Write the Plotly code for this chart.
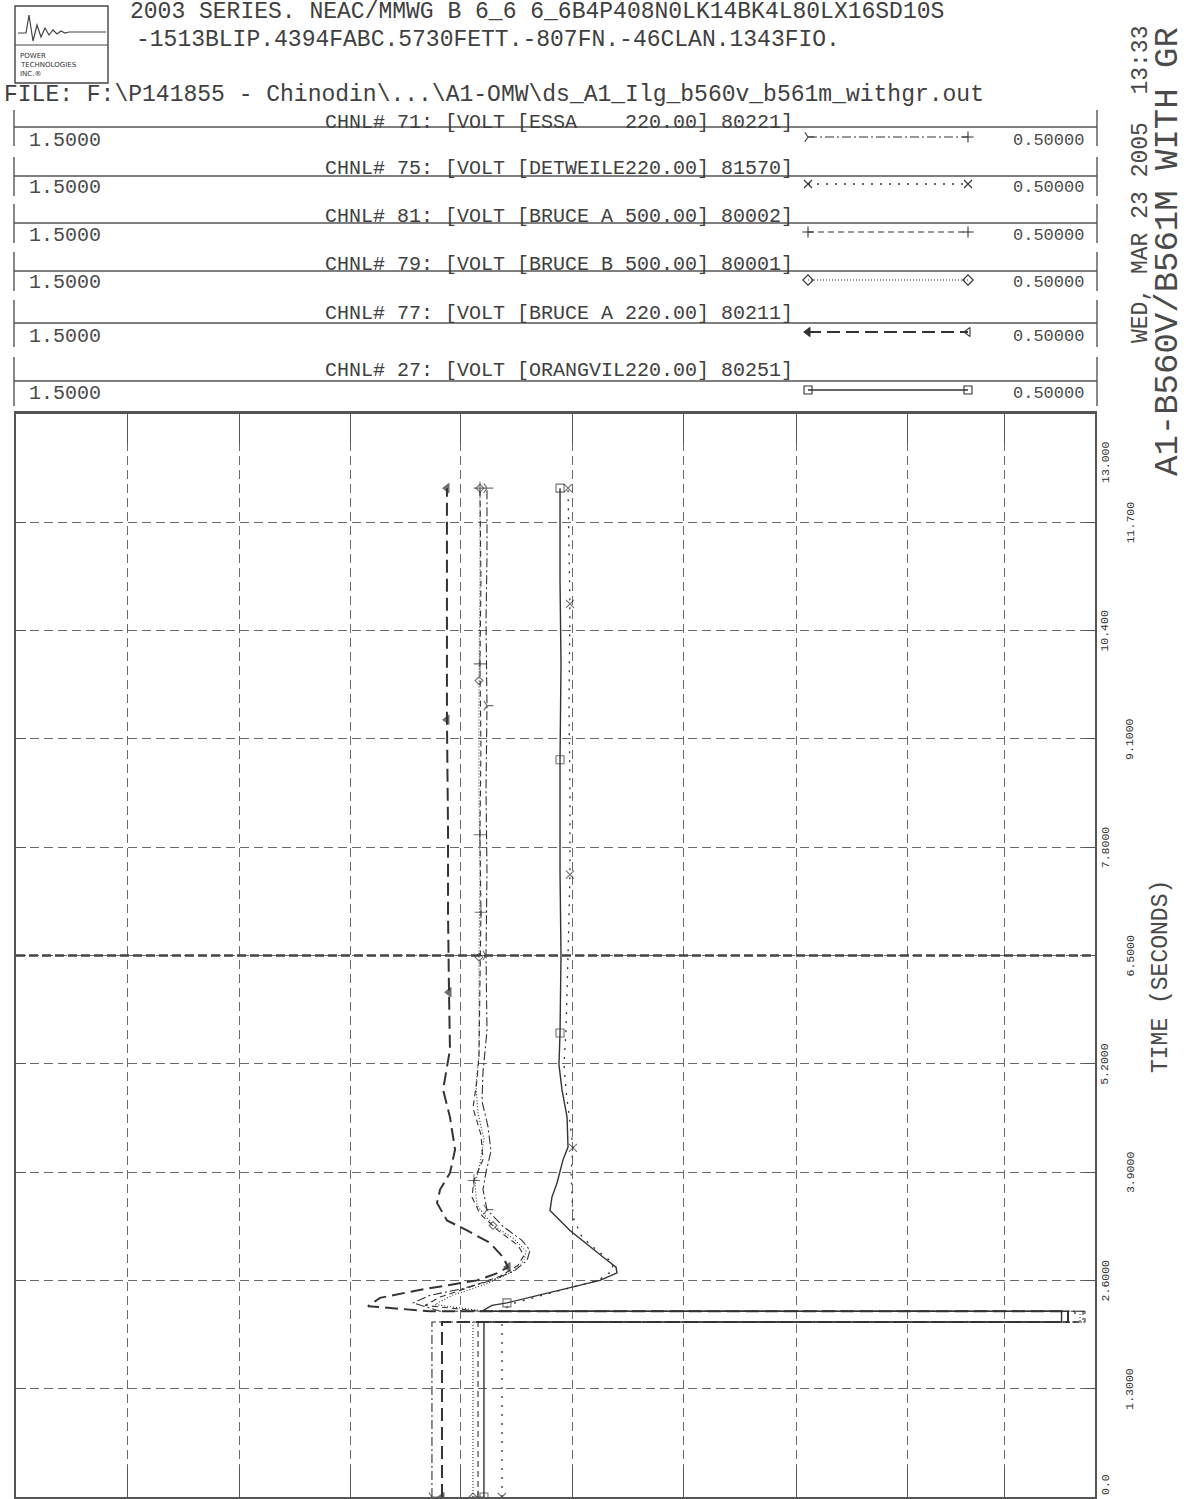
import plotly.graph_objects as go

# ---------------------------------------------------------------------------
# Data: bus voltages (pu) versus simulation time (s) for the six channels
# ---------------------------------------------------------------------------
# CHNL 71  ESSA 220 kV
t_essa = [0.0, 2.10, 2.10, 2.23, 2.23, 2.33, 2.42, 2.50, 2.60, 2.72, 2.84, 2.96,
          3.08, 3.25, 3.45, 3.69, 3.90, 4.15, 4.45, 4.75, 5.10, 5.60, 6.50, 7.50,
          8.50, 9.50, 10.50, 11.30, 12.11]
v_essa = [1.1145, 1.1145, 0.5111, 0.5111, 1.1070, 1.1321, 1.1163, 1.0867, 1.0589,
          1.0375, 1.0264, 1.0236, 1.0311, 1.0487, 1.0635, 1.0672, 1.0644, 1.0598,
          1.0626, 1.0681, 1.0672, 1.0635, 1.0644, 1.0635, 1.0644, 1.0635, 1.0644,
          1.0635, 1.0635]

# CHNL 75  DETWEILER 220 kV
t_detw = [0.0, 2.10, 2.10, 2.23, 2.23, 2.33, 2.48, 2.60, 2.72, 2.82, 2.95, 3.12,
          3.36, 3.60, 3.89, 4.19, 4.56, 4.89, 5.19, 5.60, 6.50, 7.47, 8.50, 9.50,
          10.72, 11.30, 12.11]
v_detw = [1.0496, 1.0496, 0.5185, 0.5185, 1.0514, 1.0375, 0.9958, 0.9606, 0.9467,
          0.9477, 0.9606, 0.9755, 0.9838, 0.9847, 0.9856, 0.9838, 0.9875, 0.9903,
          0.9921, 0.9903, 0.9884, 0.9866, 0.9866, 0.9875, 0.9866, 0.9875, 0.9884]

# CHNL 81  BRUCE A 500 kV
t_bra5 = [0.0, 2.10, 2.10, 2.23, 2.23, 2.30, 2.40, 2.52, 2.65, 2.78, 2.90, 3.02,
          3.20, 3.40, 3.60, 3.80, 4.05, 4.35, 4.67, 5.00, 5.30, 6.00, 7.02, 7.95,
          9.00, 10.00, 11.00, 12.11]
v_bra5 = [1.0718, 1.0718, 0.5093, 0.5093, 1.0700, 1.1209, 1.1070, 1.0792, 1.0514,
          1.0348, 1.0292, 1.0348, 1.0533, 1.0700, 1.0774, 1.0756, 1.0672, 1.0691,
          1.0765, 1.0728, 1.0709, 1.0700, 1.0691, 1.0700, 1.0691, 1.0700, 1.0691,
          1.0700]

# CHNL 79  BRUCE B 500 kV
t_brb5 = [0.0, 2.10, 2.10, 2.23, 2.23, 2.31, 2.42, 2.55, 2.70, 2.84, 2.95, 3.10,
          3.26, 3.50, 3.75, 4.00, 4.30, 4.60, 4.95, 5.30, 6.48, 7.50, 8.50, 9.80,
          11.00, 12.11]
v_brb5 = [1.0765, 1.0765, 0.5139, 0.5139, 1.0654, 1.1117, 1.0959, 1.0654, 1.0403,
          1.0292, 1.0273, 1.0385, 1.0579, 1.0728, 1.0746, 1.0700, 1.0663, 1.0718,
          1.0737, 1.0709, 1.0709, 1.0700, 1.0709, 1.0709, 1.0700, 1.0700]

# CHNL 77  BRUCE A 220 kV
t_bra2 = [0.0, 2.10, 2.10, 2.23, 2.23, 2.29, 2.39, 2.48, 2.60, 2.69, 2.76, 2.88,
          3.05, 3.20, 3.32, 3.53, 3.69, 3.89, 4.17, 4.56, 4.89, 5.16, 5.37, 6.06,
          7.00, 8.00, 9.33, 10.50, 11.30, 12.11]
v_bra2 = [1.1052, 1.1052, 0.5250, 0.5250, 1.1163, 1.1738, 1.1627, 1.1284, 1.0728,
          1.0533, 1.0440, 1.0487, 1.0607, 1.0820, 1.1006, 1.1098, 1.1070, 1.0978,
          1.0931, 1.0978, 1.1042, 1.1006, 1.0978, 1.0987, 1.0996, 1.0996, 1.1006,
          1.1006, 1.1006, 1.1006]

# CHNL 27  ORANGEVILLE 220 kV
t_orng = [0.0, 2.10, 2.10, 2.23, 2.23, 2.30, 2.33, 2.48, 2.60, 2.69, 2.76, 2.88,
          3.01, 3.20, 3.44, 3.60, 3.77, 4.05, 4.20, 4.56, 4.89, 5.19, 5.57, 6.50,
          7.50, 8.85, 10.00, 11.00, 12.11]
v_orng = [1.0663, 1.0663, 0.5310, 0.5310, 1.0681, 1.0589, 1.0450, 0.9958, 0.9588,
          0.9430, 0.9439, 0.9560, 0.9680, 0.9866, 1.0051, 1.0033, 0.9986, 0.9930,
          0.9884, 0.9893, 0.9940, 0.9968, 0.9958, 0.9949, 0.9958, 0.9958, 0.9949,
          0.9958, 0.9958]

# Times at which each curve carries its identifying symbol
mark_essa = [0.0, 3.45, 6.50, 9.50, 12.11]
mark_detw = [0.0, 4.19, 7.47, 10.72, 12.11]
mark_bra5 = [0.0, 3.80, 7.02, 7.95, 10.00, 12.11]
mark_brb5 = [0.0, 3.26, 6.48, 9.80, 12.11]
mark_bra2 = [0.0, 2.76, 6.06, 9.33, 12.11]
mark_orng = [0.0, 2.33, 5.57, 8.85, 12.11]

# Channel descriptions and scale labels
CHANNEL_LABELS = [
    "CHNL# 71: [VOLT [ESSA    220.00] 80221]",
    "CHNL# 75: [VOLT [DETWEILE220.00] 81570]",
    "CHNL# 81: [VOLT [BRUCE A 500.00] 80002]",
    "CHNL# 79: [VOLT [BRUCE B 500.00] 80001]",
    "CHNL# 77: [VOLT [BRUCE A 220.00] 80211]",
    "CHNL# 27: [VOLT [ORANGVIL220.00] 80251]",
]
SCALE_MAX_LABEL = "1.5000"
SCALE_MIN_LABEL = "0.50000"
V_MAX, V_MIN = 1.5, 0.5

# Time axis (drawn vertically)
TIME_TICKS = [0.0, 1.3, 2.6, 3.9, 5.2, 6.5, 7.8, 9.1, 10.4, 11.7, 13.0]
TIME_LABELS = ["0.0", "1.3000", "2.6000", "3.9000", "5.2000", "6.5000",
               "7.8000", "9.1000", "10.400", "11.700", "13.000"]
# Voltage grid divisions (pu)
V_GRID = [1.397, 1.293, 1.190, 1.088, 0.984, 0.881, 0.777, 0.674, 0.584]

HEADER_1 = "2003 SERIES. NEAC/MMWG B 6_6 6_6B4P408N0LK14BK4L80LX16SD10S"
HEADER_2 = "-1513BLIP.4394FABC.5730FETT.-807FN.-46CLAN.1343FIO."
FILE_LINE = "FILE: F:\\P141855 - Chinodin\\...\\A1-OMW\\ds_A1_Ilg_b560v_b561m_withgr.out"
CASE_TITLE = "A1-B560V/B561M WITH GR"
RUN_DATE = "WED, MAR 23 2005  13:33"
TIME_TITLE = "TIME (SECONDS)"
LOGO_TEXT = ["POWER", "TECHNOLOGIES", "INC.\u00ae"]

# ---------------------------------------------------------------------------
# Styling
# ---------------------------------------------------------------------------
W, H = 1187, 1499
INK = "#333333"
TXT = "#404040"
GRID = "#6a6a6a"
FONT = "Liberation Mono"
PLOT_L, PLOT_R, PLOT_T, PLOT_B = 16, 1095, 414, 1497


def nb(s):
    return s.replace(" ", "\u00a0")


series = [
    dict(t=t_essa, v=v_essa, m=mark_essa, dash="9px,3px,2px,3px", width=1.1,
         sym="y-right-open", ends=("y-right-open", "cross-thin-open"), size=8),
    dict(t=t_detw, v=v_detw, m=mark_detw, dash="2px,7px", width=1.3,
         sym="x-thin-open", ends=("x-thin-open", "x-thin-open"), size=8),
    dict(t=t_bra5, v=v_bra5, m=mark_bra5, dash="6px,4px", width=1.1,
         sym="cross-thin-open", ends=("cross-thin-open", "cross-thin-open"), size=9),
    dict(t=t_brb5, v=v_brb5, m=mark_brb5, dash="1px,2px", width=1.1,
         sym="diamond-open", ends=("diamond-open", "diamond-open"), size=6),
    dict(t=t_bra2, v=v_bra2, m=mark_bra2, dash="13px,6px", width=2.0,
         sym="triangle-left", ends=("triangle-left", "triangle-left-open"), size=8),
    dict(t=t_orng, v=v_orng, m=mark_orng, dash="solid", width=1.4,
         sym="square-open", ends=("square-open", "square-open"), size=8),
]

fig = go.Figure()

# Voltage traces on the main (time-vertical) axes
for s in series:
    sizes = [s["size"] if t in s["m"] else 0 for t in s["t"]]
    fig.add_trace(go.Scatter(
        x=s["v"], y=s["t"], mode="lines+markers",
        line=dict(color=INK, width=s["width"], dash=s["dash"]),
        marker=dict(symbol=s["sym"], size=sizes, color=INK,
                    line=dict(color=INK, width=1.1)),
        xaxis="x", yaxis="y", showlegend=False, hoverinfo="skip"))

# Channel legend block (pixel-coordinate overlay axes x2/y2)
row_line_y = [127, 176, 223, 271, 323, 381]
row_text_y = [122, 168, 216, 264, 313, 370]
row_scale_y = [140, 187, 235, 282, 336, 393]
row_sample_y = [137, 184, 232, 280, 332, 390]
row_bar = [(110, 146), (157, 196), (204, 243), (252, 291), (300, 347), (357, 406)]

shapes = []
annotations = []

for i, s in enumerate(series):
    ly = row_line_y[i]
    shapes.append(dict(type="line", xref="x2", yref="y2", x0=14, x1=1097, y0=ly, y1=ly,
                       line=dict(color="#555", width=1.6)))
    b0, b1 = row_bar[i]
    for bx in (14, 1097):
        shapes.append(dict(type="line", xref="x2", yref="y2", x0=bx, x1=bx, y0=b0, y1=b1,
                           line=dict(color="#555", width=1.4)))
    annotations.append(dict(xref="x2", yref="y2", x=323, y=row_text_y[i], text=nb(CHANNEL_LABELS[i]),
                            xanchor="left", yanchor="middle", showarrow=False,
                            font=dict(family=FONT, size=20, color=TXT)))
    annotations.append(dict(xref="x2", yref="y2", x=27, y=row_scale_y[i], text=SCALE_MAX_LABEL,
                            xanchor="left", yanchor="middle", showarrow=False,
                            font=dict(family=FONT, size=20, color="#4a4a4a")))
    annotations.append(dict(xref="x2", yref="y2", x=1086, y=row_scale_y[i], text=SCALE_MIN_LABEL,
                            xanchor="right", yanchor="middle", showarrow=False,
                            font=dict(family=FONT, size=17, color="#4a4a4a")))
    sy = row_sample_y[i]
    fig.add_trace(go.Scatter(
        x=[808, 968], y=[sy, sy], mode="lines+markers",
        line=dict(color=INK, width=s["width"], dash=s["dash"]),
        marker=dict(symbol=list(s["ends"]), size=8, color=INK, line=dict(color=INK, width=1.1)),
        xaxis="x2", yaxis="y2", showlegend=False, hoverinfo="skip"))

# Header text
annotations += [
    dict(xref="x2", yref="y2", x=128, y=12, text=nb(HEADER_1), xanchor="left", yanchor="middle",
         showarrow=False, font=dict(family=FONT, size=23, color=TXT)),
    dict(xref="x2", yref="y2", x=134, y=40, text=nb(HEADER_2), xanchor="left", yanchor="middle",
         showarrow=False, font=dict(family=FONT, size=23, color=TXT)),
    dict(xref="x2", yref="y2", x=2, y=95, text=nb(FILE_LINE), xanchor="left", yanchor="middle",
         showarrow=False, font=dict(family=FONT, size=23, color=TXT)),
]

# Rotated titles on the right
annotations += [
    dict(xref="x2", yref="y2", x=1168, y=252, text=nb(CASE_TITLE), textangle=-90,
         showarrow=False, font=dict(family=FONT, size=34, color="#4a4a4a")),
    dict(xref="x2", yref="y2", x=1141, y=185, text=nb(RUN_DATE), textangle=-90,
         showarrow=False, font=dict(family=FONT, size=23, color="#4a4a4a")),
    dict(xref="x2", yref="y2", x=1161, y=977, text=nb(TIME_TITLE), textangle=-90,
         showarrow=False, font=dict(family=FONT, size=23, color="#4a4a4a")),
]

# Time tick labels, staggered in two columns
for k, (tv, lab) in enumerate(zip(TIME_TICKS, TIME_LABELS)):
    shift = 0
    if k == 0:
        shift = 12
    elif k == len(TIME_TICKS) - 1:
        shift = -48
    annotations.append(dict(xref="x2", yref="y", x=1105 if k % 2 == 0 else 1130, y=tv,
                            yshift=shift, text=lab, textangle=-90, showarrow=False,
                            font=dict(family=FONT, size=11.5, color=INK)))

# Company logo
shapes += [
    dict(type="rect", xref="x2", yref="y2", x0=15, x1=108, y0=6, y1=83,
         line=dict(color="#444", width=1.4)),
    dict(type="line", xref="x2", yref="y2", x0=15, x1=108, y0=45, y1=45,
         line=dict(color="#444", width=1.2)),
    dict(type="path", xref="x2", yref="y2",
         path="M18,33 L26,33 L29,15 L33,41 L37,25 L41,37 L45,28 L49,35 L53,30 L57,34 "
              "L61,31 L65,33 L69,32 L106,32",
         line=dict(color="#444", width=1.2)),
]
for j, txt in enumerate(LOGO_TEXT):
    annotations.append(dict(xref="x2", yref="y2", x=18, y=56 + 9 * j, text=txt, xanchor="left",
                            yanchor="middle", showarrow=False,
                            font=dict(family="DejaVu Sans", size=7, color=INK)))

# Emphasised mid-range time line
shapes.append(dict(type="line", xref="x domain", yref="y", x0=0, x1=1, y0=6.5, y1=6.5,
                   line=dict(color="#444", width=2.6, dash="9px,4px")))

fig.update_layout(
    width=W, height=H,
    margin=dict(l=0, r=0, t=0, b=0),
    paper_bgcolor="white", plot_bgcolor="rgba(0,0,0,0)",
    showlegend=False,
    shapes=shapes, annotations=annotations,
    xaxis=dict(domain=[PLOT_L / W, PLOT_R / W], range=[V_MAX, V_MIN], anchor="y",
               tickvals=V_GRID, showticklabels=False, ticks="inside", ticklen=30,
               tickcolor="#555", tickwidth=1.4,
               showgrid=True, gridcolor=GRID, gridwidth=1.2, griddash="9px,5px",
               showline=True, linecolor="#555", linewidth=3, mirror="ticks",
               zeroline=False, fixedrange=True),
    yaxis=dict(domain=[(H - PLOT_B) / H, (H - PLOT_T) / H], range=[0, 13], anchor="x",
               tickvals=TIME_TICKS, showticklabels=False, ticks="inside", ticklen=10,
               tickcolor="#555", tickwidth=1.2,
               showgrid=True, gridcolor=GRID, gridwidth=1.2, griddash="9px,5px",
               showline=True, linecolor="#555", linewidth=1.8, mirror="ticks",
               zeroline=False, fixedrange=True),
    xaxis2=dict(domain=[0, 1], range=[0, W], anchor="y2", visible=False, fixedrange=True),
    yaxis2=dict(domain=[0, 1], range=[H, 0], anchor="x2", visible=False, fixedrange=True),
)

fig.write_html("out.html")
